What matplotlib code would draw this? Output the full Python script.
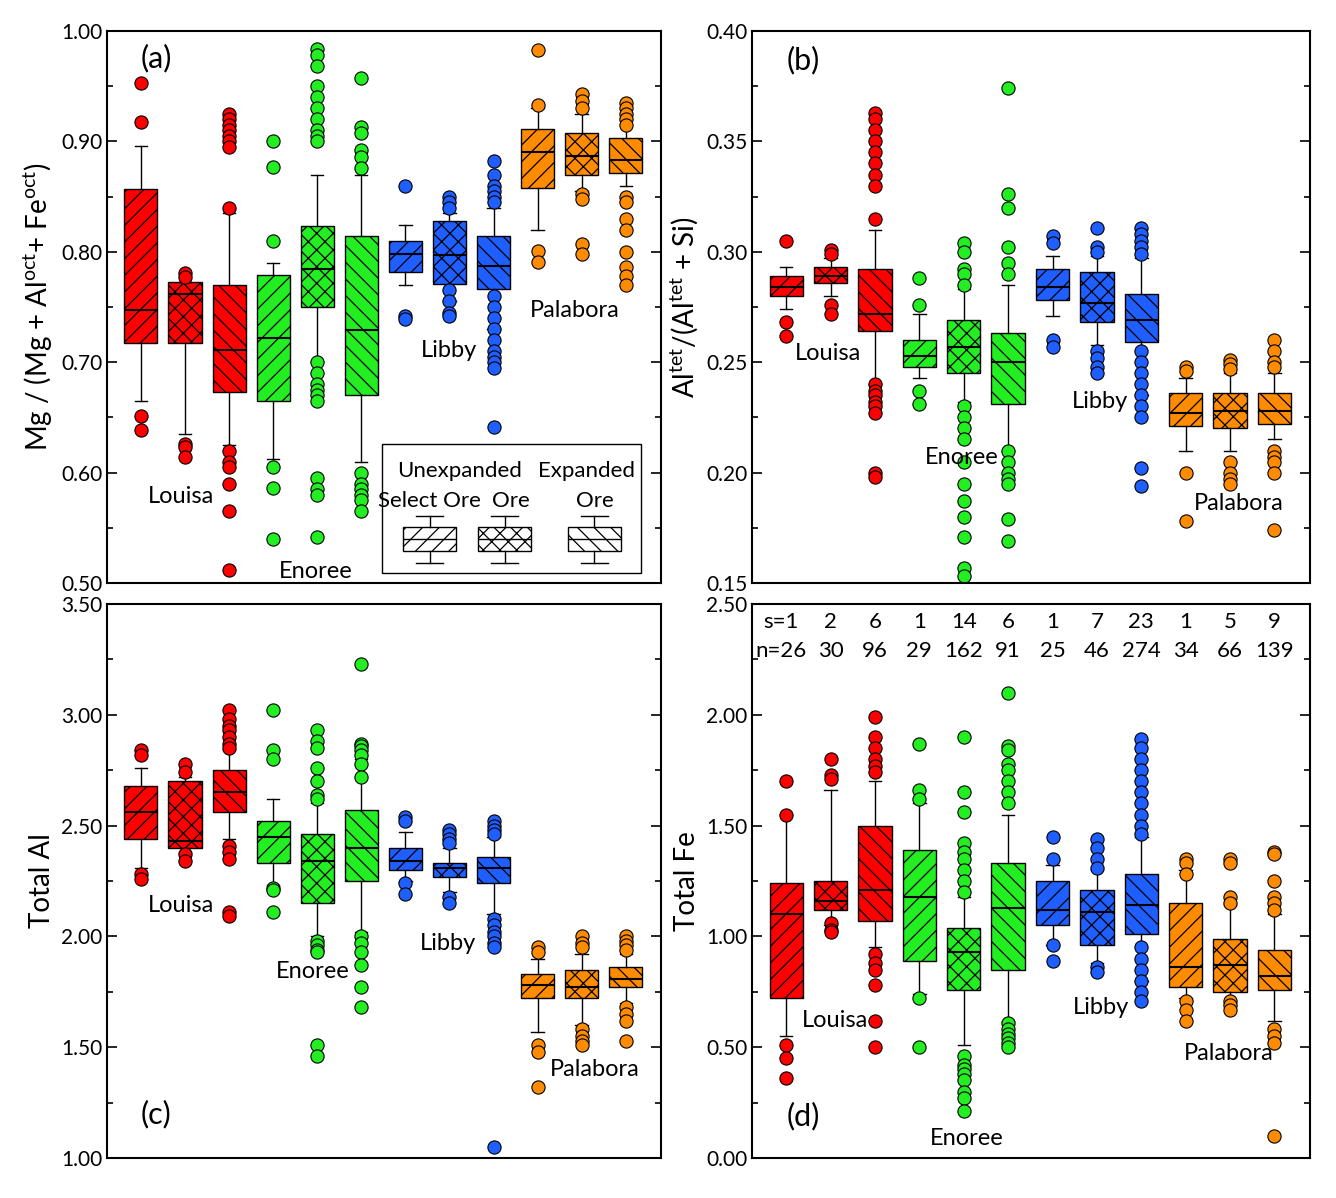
import matplotlib
matplotlib.use("Agg")
import matplotlib.pyplot as plt
from matplotlib.ticker import AutoMinorLocator, FormatStrFormatter, MultipleLocator
from matplotlib.patches import Rectangle

plt.rcParams['font.family'] = ['Lato', 'DejaVu Sans']
plt.rcParams['hatch.linewidth'] = 0.9
plt.rcParams['mathtext.fontset'] = 'custom'
plt.rcParams['mathtext.rm'] = 'Lato'

colors = ['#ff0000'] * 3 + ['#22ee22'] * 3 + ['#1f5fff'] * 3 + ['#ff8c00'] * 3
hatches = ['//', 'xx', '\\\\'] * 4

# ---------------- panel (a) ----------------
a_q1 = [0.717, 0.717, 0.673, 0.665, 0.750, 0.670, 0.782, 0.771, 0.766, 0.858, 0.870, 0.871]
a_med = [0.747, 0.762, 0.711, 0.722, 0.784, 0.729, 0.798, 0.797, 0.787, 0.890, 0.887, 0.883]
a_q3 = [0.857, 0.773, 0.770, 0.779, 0.823, 0.814, 0.810, 0.828, 0.814, 0.911, 0.908, 0.903]
a_lo = [0.665, 0.635, 0.625, 0.612, 0.700, 0.610, 0.770, 0.755, 0.730, 0.820, 0.855, 0.860]
a_hi = [0.896, 0.773, 0.835, 0.790, 0.870, 0.870, 0.824, 0.835, 0.840, 0.930, 0.925, 0.920]
a_fl = [
    [0.953, 0.918, 0.651, 0.639],
    [0.781, 0.777, 0.626, 0.623, 0.614],
    [0.925, 0.920, 0.915, 0.910, 0.905, 0.900, 0.895, 0.840, 0.620, 0.610, 0.605, 0.590, 0.565, 0.512],
    [0.900, 0.877, 0.810, 0.605, 0.586, 0.540],
    [0.984, 0.978, 0.968, 0.950, 0.940, 0.930, 0.920, 0.910, 0.905, 0.900, 0.700, 0.690, 0.680,
     0.675, 0.670, 0.665, 0.595, 0.585, 0.580, 0.542],
    [0.957, 0.913, 0.908, 0.892, 0.886, 0.876, 0.600, 0.590, 0.585, 0.580, 0.575, 0.565],
    [0.860, 0.742, 0.739],
    [0.850, 0.845, 0.840, 0.765, 0.755, 0.745, 0.742],
    [0.882, 0.870, 0.860, 0.855, 0.850, 0.845, 0.760, 0.750, 0.740, 0.730, 0.720, 0.710,
     0.705, 0.700, 0.695, 0.641],
    [0.983, 0.933, 0.801, 0.791],
    [0.943, 0.937, 0.930, 0.852, 0.848, 0.807, 0.798],
    [0.935, 0.930, 0.925, 0.920, 0.915, 0.850, 0.845, 0.830, 0.820, 0.800, 0.786, 0.778, 0.770],
]

# ---------------- panel (b) ----------------
b_q1 = [0.280, 0.286, 0.264, 0.248, 0.245, 0.231, 0.278, 0.268, 0.259, 0.221, 0.220, 0.222]
b_med = [0.284, 0.289, 0.272, 0.253, 0.257, 0.250, 0.284, 0.277, 0.269, 0.227, 0.228, 0.228]
b_q3 = [0.289, 0.293, 0.292, 0.260, 0.269, 0.263, 0.292, 0.291, 0.281, 0.236, 0.236, 0.236]
b_lo = [0.274, 0.280, 0.240, 0.243, 0.232, 0.210, 0.271, 0.258, 0.235, 0.210, 0.210, 0.215]
b_hi = [0.293, 0.297, 0.310, 0.272, 0.283, 0.285, 0.298, 0.298, 0.297, 0.243, 0.245, 0.245]
b_fl = [
    [0.305, 0.268, 0.262],
    [0.301, 0.299, 0.276, 0.272],
    [0.363, 0.360, 0.355, 0.350, 0.345, 0.340, 0.335, 0.330, 0.315, 0.240, 0.237, 0.235,
     0.232, 0.230, 0.227, 0.200, 0.198],
    [0.288, 0.276, 0.237, 0.231],
    [0.304, 0.300, 0.292, 0.290, 0.285, 0.230, 0.225, 0.220, 0.215, 0.205, 0.195, 0.187,
     0.180, 0.171, 0.157, 0.153],
    [0.374, 0.326, 0.320, 0.302, 0.295, 0.290, 0.210, 0.205, 0.200, 0.197, 0.195, 0.179, 0.169],
    [0.307, 0.304, 0.260, 0.257],
    [0.311, 0.302, 0.300, 0.255, 0.252, 0.248, 0.245],
    [0.311, 0.308, 0.305, 0.302, 0.299, 0.255, 0.250, 0.245, 0.240, 0.235, 0.230, 0.225,
     0.202, 0.194],
    [0.248, 0.246, 0.200, 0.178],
    [0.251, 0.249, 0.247, 0.205, 0.200, 0.197, 0.195],
    [0.260, 0.255, 0.250, 0.248, 0.210, 0.207, 0.205, 0.200, 0.174],
]

# ---------------- panel (c) ----------------
c_q1 = [2.44, 2.40, 2.56, 2.33, 2.15, 2.25, 2.30, 2.27, 2.24, 1.72, 1.72, 1.77]
c_med = [2.56, 2.43, 2.65, 2.45, 2.34, 2.40, 2.34, 2.31, 2.31, 1.78, 1.77, 1.81]
c_q3 = [2.68, 2.70, 2.75, 2.52, 2.46, 2.57, 2.40, 2.33, 2.36, 1.83, 1.85, 1.86]
c_lo = [2.31, 2.38, 2.44, 2.23, 2.00, 2.02, 2.25, 2.20, 2.10, 1.57, 1.60, 1.70]
c_hi = [2.76, 2.72, 2.84, 2.62, 2.60, 2.80, 2.47, 2.40, 2.45, 1.90, 1.92, 1.92]
c_fl = [
    [2.84, 2.82, 2.28, 2.26],
    [2.78, 2.74, 2.37, 2.34],
    [3.02, 2.98, 2.95, 2.93, 2.90, 2.87, 2.85, 2.41, 2.38, 2.35, 2.11, 2.09],
    [3.02, 2.84, 2.80, 2.22, 2.21, 2.11],
    [2.93, 2.88, 2.85, 2.76, 2.70, 2.64, 2.62, 1.98, 1.96, 1.94, 1.93, 1.51, 1.46],
    [3.23, 2.87, 2.86, 2.84, 2.82, 2.78, 2.72, 2.00, 1.97, 1.93, 1.87, 1.77, 1.68],
    [2.54, 2.52, 2.24, 2.19],
    [2.48, 2.46, 2.44, 2.42, 2.18, 2.15],
    [2.52, 2.50, 2.48, 2.46, 2.08, 2.05, 2.02, 2.00, 1.97, 1.95, 1.05],
    [1.95, 1.93, 1.51, 1.48, 1.32],
    [2.00, 1.97, 1.95, 1.58, 1.55, 1.53, 1.51],
    [2.00, 1.98, 1.96, 1.94, 1.68, 1.65, 1.62, 1.53],
]

# ---------------- panel (d) ----------------
d_q1 = [0.72, 1.12, 1.07, 0.89, 0.76, 0.85, 1.05, 0.96, 1.01, 0.77, 0.75, 0.76]
d_med = [1.10, 1.16, 1.21, 1.18, 0.93, 1.13, 1.12, 1.11, 1.14, 0.86, 0.87, 0.82]
d_q3 = [1.24, 1.25, 1.50, 1.39, 1.04, 1.33, 1.25, 1.21, 1.28, 1.15, 0.99, 0.94]
d_lo = [0.55, 1.05, 0.95, 0.74, 0.51, 0.62, 0.96, 0.88, 0.80, 0.72, 0.69, 0.62]
d_hi = [1.55, 1.66, 1.70, 1.60, 1.18, 1.55, 1.32, 1.30, 1.45, 1.30, 1.14, 1.10]
d_fl = [
    [1.70, 1.55, 0.51, 0.45, 0.36],
    [1.80, 1.73, 1.71, 1.06, 1.03, 1.02],
    [1.99, 1.90, 1.85, 1.80, 1.77, 1.74, 0.92, 0.88, 0.85, 0.78, 0.62, 0.50],
    [1.87, 1.66, 1.62, 0.72, 0.50],
    [1.90, 1.65, 1.56, 1.42, 1.38, 1.35, 1.30, 1.25, 1.20, 0.46, 0.42, 0.40, 0.38, 0.35,
     0.30, 0.27, 0.21],
    [2.10, 1.86, 1.84, 1.78, 1.75, 1.70, 1.65, 1.60, 0.61, 0.58, 0.56, 0.54, 0.52, 0.50],
    [1.45, 1.35, 0.96, 0.89],
    [1.44, 1.40, 1.35, 1.31, 0.86, 0.84],
    [1.89, 1.85, 1.80, 1.75, 1.70, 1.65, 1.60, 1.55, 1.50, 1.46, 0.95, 0.90, 0.85, 0.80,
     0.75, 0.71],
    [1.35, 1.33, 1.28, 0.71, 0.67, 0.62],
    [1.35, 1.33, 1.18, 1.15, 0.71, 0.69, 0.67],
    [1.38, 1.37, 1.25, 1.18, 1.15, 1.12, 0.58, 0.55, 0.52, 0.10],
]

s_vals = [1, 2, 6, 1, 14, 6, 1, 7, 23, 1, 5, 9]
n_vals = [26, 30, 96, 29, 162, 91, 25, 46, 274, 34, 66, 139]

W, H = 1336, 1198
fig = plt.figure(figsize=(W / 100, H / 100), dpi=100)


def rect(x0, x1, y0, y1):
    return [x0 / W, 1 - y1 / H, (x1 - x0) / W, (y1 - y0) / H]


axa = fig.add_axes(rect(107, 661, 31, 583))
axb = fig.add_axes(rect(752, 1310, 31, 583))
axc = fig.add_axes(rect(107, 661, 604, 1158))
axd = fig.add_axes(rect(752, 1310, 604, 1158))

pos = list(range(1, 13))
XLIM = (0.23, 12.8)


def draw(ax, q1, med, q3, lo, hi, fl, ylim, major, fmt, ylabel):
    stats = [dict(q1=q1[i], med=med[i], q3=q3[i], whislo=lo[i], whishi=hi[i], fliers=fl[i])
             for i in range(12)]
    res = ax.bxp(stats, positions=pos, widths=0.75, patch_artist=True, showfliers=True,
                 boxprops=dict(edgecolor='black', linewidth=1.0),
                 medianprops=dict(color='black', linewidth=1.5),
                 whiskerprops=dict(color='black', linewidth=1.0),
                 capprops=dict(color='black', linewidth=1.0),
                 flierprops=dict(marker='o', markeredgecolor='black', markersize=9.5,
                                 markeredgewidth=0.8))
    for c in res['caps']:
        x = c.get_xdata()
        m = (x[0] + x[1]) / 2
        c.set_xdata([m - 0.14, m + 0.14])
    for i, b in enumerate(res['boxes']):
        b.set_facecolor(colors[i])
        b.set_hatch(hatches[i])
    for i, f in enumerate(res['fliers']):
        f.set_markerfacecolor(colors[i])
    ax.set_xlim(*XLIM)
    ax.set_ylim(*ylim)
    ax.set_xticks([])
    ax.yaxis.set_major_locator(MultipleLocator(major))
    ax.yaxis.set_minor_locator(AutoMinorLocator(2))
    ax.yaxis.set_major_formatter(FormatStrFormatter(fmt))
    ax.tick_params(axis='y', which='both', direction='in', right=True, labelsize=15)
    ax.tick_params(axis='y', which='major', length=7, width=1.2)
    ax.tick_params(axis='y', which='minor', length=4, width=1.2)
    ax.set_ylabel(ylabel, fontsize=20, labelpad=4)
    for s in ax.spines.values():
        s.set_linewidth(1.5)


draw(axa, a_q1, a_med, a_q3, a_lo, a_hi, a_fl, (0.5, 1.0), 0.1, '%.2f',
     r'Mg / (Mg + Al$^{\rm oct}$+ Fe$^{\rm oct}$)')
draw(axb, b_q1, b_med, b_q3, b_lo, b_hi, b_fl, (0.15, 0.40), 0.05, '%.2f',
     r'Al$^{\rm tet}$/(Al$^{\rm tet}$ + Si)')
draw(axc, c_q1, c_med, c_q3, c_lo, c_hi, c_fl, (1.0, 3.5), 0.5, '%.2f', 'Total Al')
draw(axd, d_q1, d_med, d_q3, d_lo, d_hi, d_fl, (0.0, 2.5), 0.5, '%.2f', 'Total Fe')

fs = 17
axa.text(1.0, 0.975, '(a)', fontsize=22, va='center')
axb.text(1.0, 0.387, '(b)', fontsize=22, va='center')
axc.text(1.0, 1.2, '(c)', fontsize=22, va='center')
axd.text(1.0, 0.19, '(d)', fontsize=22, va='center')

for ax, items in [
    (axa, [('Louisa', 1.9, 0.578), ('Enoree', 4.97, 0.510), ('Libby', 7.98, 0.711), ('Palabora', 10.84, 0.747)]),
    (axb, [('Louisa', 1.95, 0.254), ('Enoree', 4.95, 0.207), ('Libby', 8.07, 0.232), ('Palabora', 11.2, 0.186)]),
    (axc, [('Louisa', 1.9, 2.14), ('Enoree', 4.9, 1.84), ('Libby', 7.96, 1.97), ('Palabora', 11.3, 1.40)]),
    (axd, [('Louisa', 2.1, 0.62), ('Enoree', 5.06, 0.09), ('Libby', 8.1, 0.68), ('Palabora', 10.98, 0.47)]),
]:
    for t, x, y in items:
        ax.text(x, y, t, fontsize=fs, ha='center', va='center')

# s / n counts
for i in range(12):
    st = ('s=%d' % s_vals[i]) if i == 0 else str(s_vals[i])
    nt = ('n=%d' % n_vals[i]) if i == 0 else str(n_vals[i])
    dx = -0.12 if i == 0 else 0
    axd.text(pos[i] + dx, 2.42, st, fontsize=16, ha='center', va='center')
    axd.text(pos[i] + dx, 2.29, nt, fontsize=16, ha='center', va='center')

# legend inset in (a)
axa.add_patch(Rectangle((6.46, 0.509), 12.34 - 6.46, 0.626 - 0.509, facecolor='white',
                        edgecolor='black', linewidth=1.0, zorder=3))
lf = 16
axa.text(8.23, 0.601, 'Unexpanded', fontsize=lf, ha='center', va='center', zorder=4)
axa.text(11.11, 0.601, 'Expanded', fontsize=lf, ha='center', va='center', zorder=4)
axa.text(7.55, 0.574, 'Select Ore', fontsize=lf, ha='center', va='center', zorder=4)
axa.text(9.4, 0.574, 'Ore', fontsize=lf, ha='center', va='center', zorder=4)
axa.text(11.29, 0.574, 'Ore', fontsize=lf, ha='center', va='center', zorder=4)
leg_stats = [dict(q1=0.529, med=0.540, q3=0.551, whislo=0.518, whishi=0.561, fliers=[])] * 3
lr = axa.bxp(leg_stats, positions=[7.55, 9.25, 11.29], widths=1.2, patch_artist=True,
             showfliers=False, manage_ticks=False,
             boxprops=dict(edgecolor='black', linewidth=1.0, facecolor='white'),
             medianprops=dict(color='black', linewidth=1.0),
             whiskerprops=dict(color='black', linewidth=1.0),
             capprops=dict(color='black', linewidth=1.0))
for k, b in enumerate(lr['boxes']):
    b.set_hatch(['//', 'xx', '\\\\'][k])
    b.set_zorder(5)
for key in ['medians', 'whiskers', 'caps']:
    for l in lr[key]:
        l.set_zorder(5)
for c in lr['caps']:
    x = c.get_xdata()
    m = (x[0] + x[1]) / 2
    c.set_xdata([m - 0.3, m + 0.3])
axa.set_xticks([])
axa.set_xlim(*XLIM)

fig.savefig('out.png', dpi=100)
